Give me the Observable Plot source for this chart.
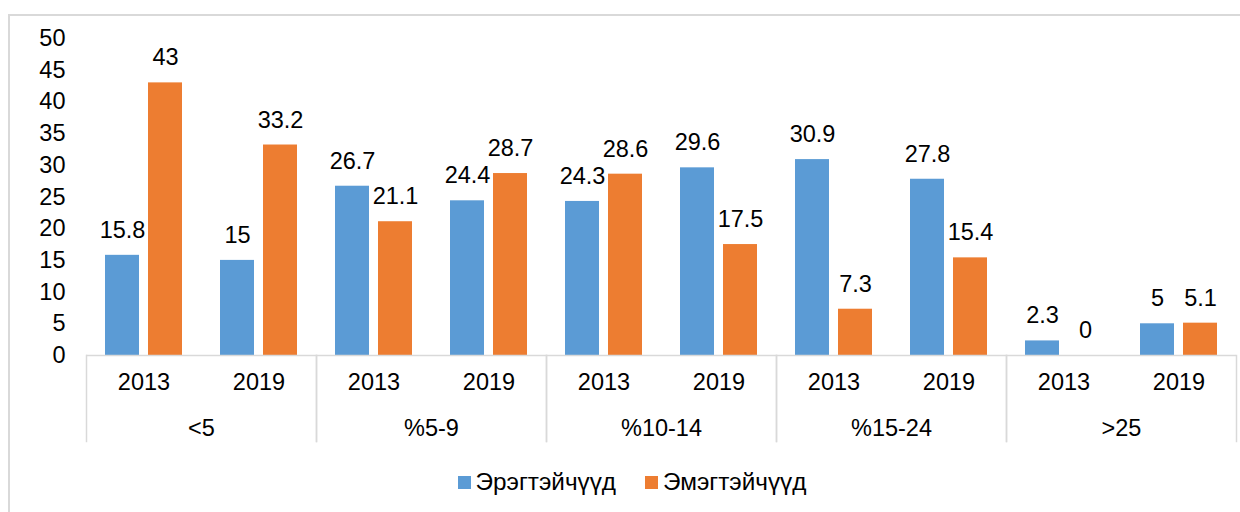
<!DOCTYPE html>
<html>
<head>
<meta charset="utf-8">
<script src="https://cdn.jsdelivr.net/npm/d3@7"></script>
<script src="https://cdn.jsdelivr.net/npm/@observablehq/plot@0.6"></script>
<style>
  html, body { margin: 0; padding: 0; background: #fff; width: 1240px; height: 512px; overflow: hidden; }
  body { position: relative; font-family: "Liberation Sans", Arial, sans-serif; }
  #frame { position: absolute; left: 8px; top: 14px; width: 1240px; height: 600px; border: 2px solid #d9d9d9; box-sizing: border-box; }
  #chart { position: absolute; left: 0; top: 0; }
  #legend { position: absolute; left: 0; top: 468px; width: 1240px; display: flex; justify-content: center; gap: 29px; font-size: 24.3px; color: #000; padding-left: 24px; box-sizing: border-box; }
  .item { display: flex; align-items: center; gap: 5px; }
  .sw { width: 13px; height: 13px; display: inline-block; }
</style>
</head>
<body>
<div id="frame"></div>
<div id="chart"></div>
<div id="legend"></div>
<script>
const groups = ["<5", "%5-9", "%10-14", "%15-24", ">25"];
const years = ["2013", "2019"];
const seriesNames = ["Эрэгтэйчүүд", "Эмэгтэйчүүд"];
const seriesColors = ["#5B9BD5", "#ED7D31"];
// values ordered group by group, 2013 then 2019
const men = [15.8, 15, 26.7, 24.4, 24.3, 29.6, 30.9, 27.8, 2.3, 5];
const women = [43, 33.2, 21.1, 28.7, 28.6, 17.5, 7.3, 15.4, 0, 5.1];
const yTicks = [0, 5, 10, 15, 20, 25, 30, 35, 40, 45, 50];

const rows = [];
groups.forEach((g, i) => years.forEach((y, j) => {
  rows.push({group: g, year: y, men: men[i * 2 + j], women: women[i * 2 + j]});
}));

const axisColor = "#d9d9d9";
const plot = Plot.plot({
  width: 1240,
  height: 460,
  marginLeft: 86,
  marginRight: 4,
  marginTop: 38,
  marginBottom: 105,
  style: {background: "transparent", fontFamily: "Liberation Sans, Arial, sans-serif", fontSize: "23.5px", color: "#000", overflow: "visible"},
  fx: {domain: groups, padding: 0, axis: null},
  x: {domain: years, padding: 0, axis: null},
  y: {domain: [0, 50], ticks: yTicks, tickSize: 0, tickPadding: 21, label: null},
  marks: [
    Plot.barY(rows, {fx: "group", x: "year", y: "men", fill: seriesColors[0], insetLeft: 19, insetRight: 62}),
    Plot.barY(rows, {fx: "group", x: "year", y: "women", fill: seriesColors[1], insetLeft: 62, insetRight: 19}),
    Plot.text(rows, {fx: "group", x: "year", y: "men", text: d => String(d.men), dx: -21.5, dy: -25, fill: "#000"}),
    Plot.text(rows, {fx: "group", x: "year", y: "women", text: d => String(d.women), dx: 21.5, dy: -25, fill: "#000"}),
    Plot.ruleY([0], {stroke: axisColor, strokeWidth: 1.5}),
    Plot.frame({anchor: "left", stroke: axisColor, strokeWidth: 1.5, insetTop: 317, insetBottom: -86}),
    Plot.frame({anchor: "right", stroke: axisColor, strokeWidth: 1.5, insetTop: 317, insetBottom: -86}),
    Plot.text(rows, {fx: "group", x: "year", text: "year", frameAnchor: "bottom", lineAnchor: "middle", dy: 27, fill: "#000"}),
    Plot.text(groups, {fx: d => d, text: d => d, frameAnchor: "bottom", lineAnchor: "middle", dy: 73, fill: "#000"})
  ]
});
document.getElementById("chart").appendChild(plot);

const legend = document.getElementById("legend");
seriesNames.forEach((name, i) => {
  const item = document.createElement("div");
  item.className = "item";
  const sw = document.createElement("span");
  sw.className = "sw";
  sw.style.background = seriesColors[i];
  const label = document.createElement("span");
  label.textContent = name;
  item.appendChild(sw);
  item.appendChild(label);
  legend.appendChild(item);
});
</script>
</body>
</html>
